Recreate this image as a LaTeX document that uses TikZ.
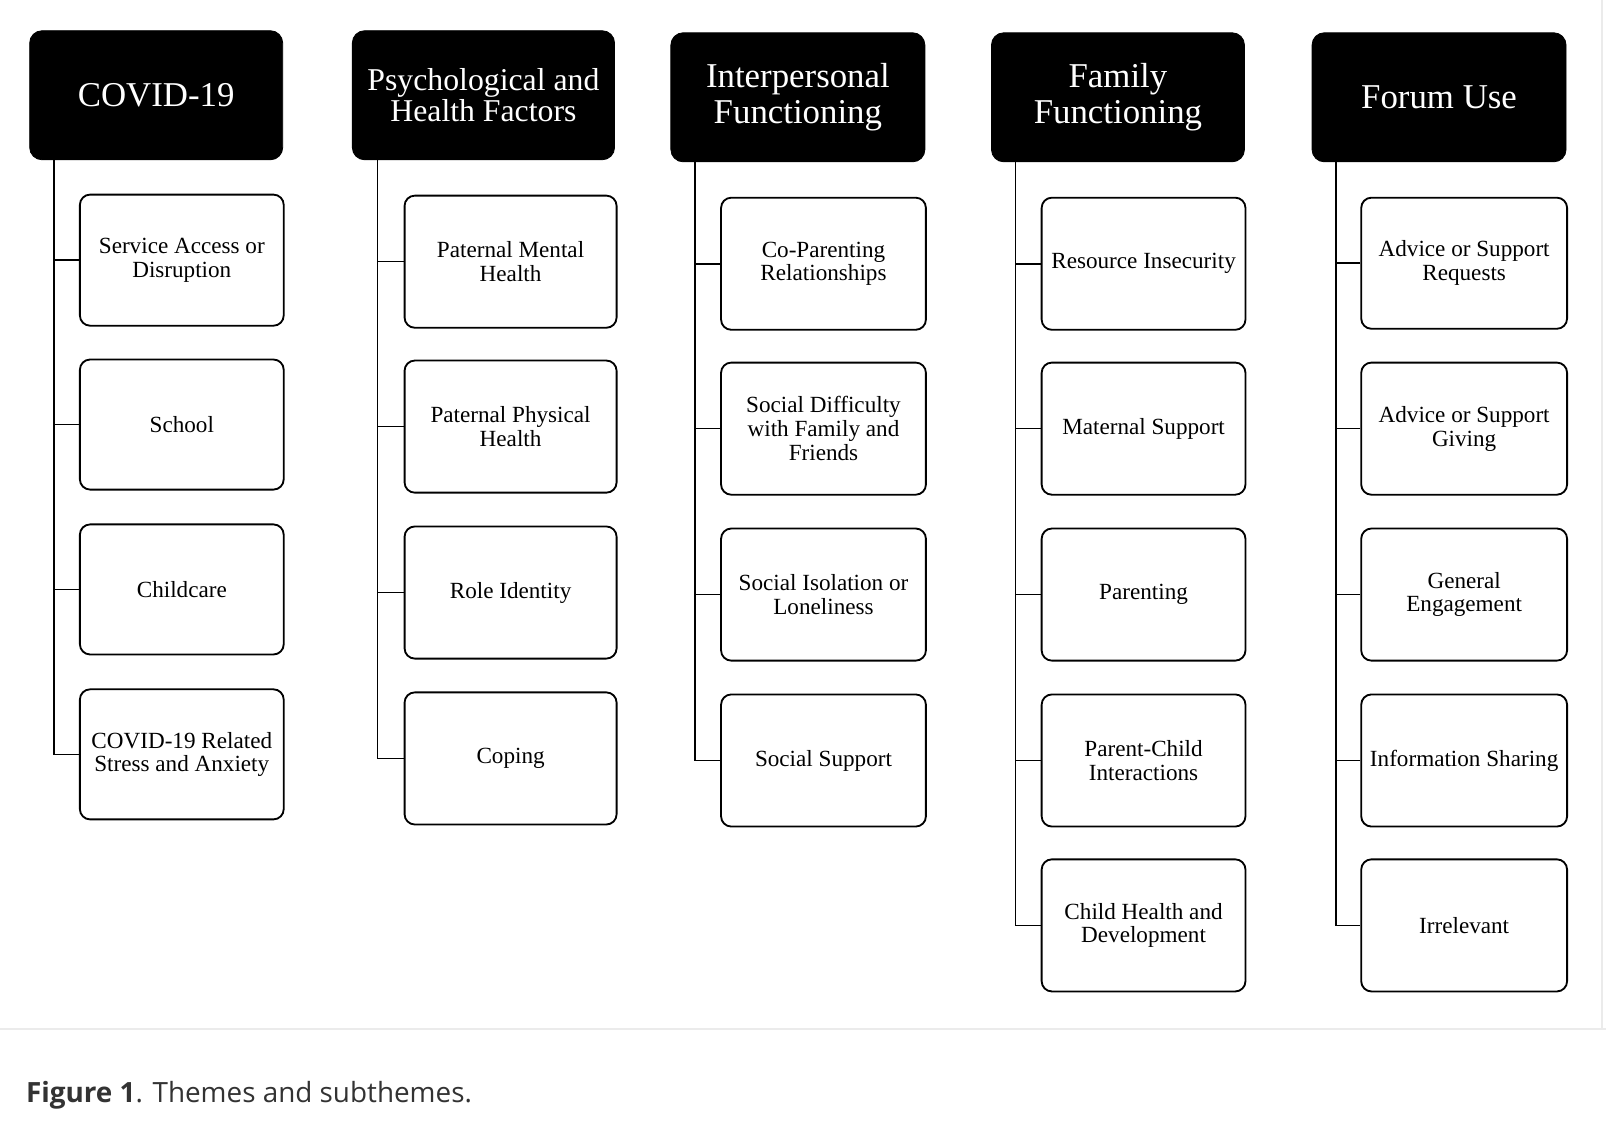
\documentclass[tikz,border=0pt]{standalone}
\usepackage{fontspec}
\setmainfont{Liberation Serif}
\newfontfamily\capfont{Open Sans}
\usetikzlibrary{calc}
\definecolor{capgray}{HTML}{333333}
\definecolor{sepgray}{HTML}{EBEBEB}
\newcommand\mybox[7]{%
  \node[#1, minimum width={(#5-#3)*0.5pt}, minimum height={(#6-#4)*0.5pt}] (#2) at ({(#3+#5)/2},{(#4+#6)/2}) {#7};}
\begin{document}
\begin{tikzpicture}[x=0.5pt,y=-0.5pt,
  headbox/.style={draw=black, fill=black, rounded corners=6pt, text=white, align=center, inner sep=2pt,
    font=\fontsize{17}{17.5}\selectfont},
  subbox/.style={draw=black, line width=0.9pt, fill=white, rounded corners=5pt, align=center, inner sep=2pt,
    font=\fontsize{11.3}{11.6}\selectfont},
  trunk/.style={draw=black, line width=0.75pt}]
\useasboundingbox (0,0) rectangle (1568,1107);
\fill[white] (0,0) rectangle (1568,1107);
% frame lines
\coordinate (sepL) at (0,1005);
\coordinate (sepR) at (1568,1005);
\coordinate (edgeT) at (1564,0);
\draw[sepgray, line width=1pt] (sepL) -- (sepR);
\draw[sepgray, line width=1pt] (edgeT) -- (edgeT |- sepL);
% headers
\mybox{headbox}{h1}{29}{30}{276}{156}{COVID-19}
\mybox{headbox, font=\fontsize{15.5}{15.5}\selectfont}{h2}{344}{30}{600}{156}{Psychological and\\Health Factors}
\mybox{headbox}{h3}{655}{32}{903}{158}{Interpersonal\\Functioning}
\mybox{headbox}{h4}{968}{32}{1215}{158}{Family\\Functioning}
\mybox{headbox}{h5}{1281}{32}{1529}{158}{Forum Use}
% column 1
\mybox{subbox}{s11}{78}{190}{277}{318}{Service Access or\\Disruption}
\mybox{subbox}{s12}{78}{351}{277}{478}{School}
\mybox{subbox}{s13}{78}{512}{277}{639}{Childcare}
\mybox{subbox}{s14}{78}{673}{277}{800}{COVID-19 Related\\Stress and Anxiety}
% column 2
\mybox{subbox}{s21}{395}{191}{602}{320}{Paternal Mental\\Health}
\mybox{subbox}{s22}{395}{352}{602}{481}{Paternal Physical\\Health}
\mybox{subbox}{s23}{395}{514}{602}{643}{Role Identity}
\mybox{subbox}{s24}{395}{676}{602}{805}{Coping}
% column 3
\mybox{subbox}{s31}{704}{193}{904}{322}{Co-Parenting\\Relationships}
\mybox{subbox}{s32}{704}{354}{904}{483}{Social Difficulty\\with Family and\\Friends}
\mybox{subbox}{s33}{704}{516}{904}{645}{Social Isolation or\\Loneliness}
\mybox{subbox}{s34}{704}{678}{904}{807}{Social Support}
% column 4
\mybox{subbox}{s41}{1017}{193}{1216}{322}{Resource Insecurity}
\mybox{subbox}{s42}{1017}{354}{1216}{483}{Maternal Support}
\mybox{subbox}{s43}{1017}{516}{1216}{645}{Parenting}
\mybox{subbox}{s44}{1017}{678}{1216}{807}{Parent-Child\\Interactions}
\mybox{subbox}{s45}{1017}{839}{1216}{968}{Child Health and\\Development}
% column 5
\mybox{subbox}{s51}{1329}{193}{1530}{321}{Advice or Support\\Requests}
\mybox{subbox}{s52}{1329}{354}{1530}{483}{Advice or Support\\Giving}
\mybox{subbox}{s53}{1329}{516}{1530}{645}{General\\Engagement}
\mybox{subbox}{s54}{1329}{678}{1530}{807}{Information Sharing}
\mybox{subbox}{s55}{1329}{839}{1530}{968}{Irrelevant}
% trunks
\coordinate (t1) at ([xshift=12pt]h1.south west);
\coordinate (t2) at ([xshift=12.5pt]h2.south west);
\coordinate (t3) at ([xshift=12pt]h3.south west);
\coordinate (t4) at ([xshift=12pt]h4.south west);
\coordinate (t5) at ([xshift=12pt]h5.south west);
\draw[trunk] (t1) |- (s14.west);
\draw[trunk] (t2) |- (s24.west);
\draw[trunk] (t3) |- (s34.west);
\draw[trunk] (t4) |- (s45.west);
\draw[trunk] (t5) |- (s55.west);
\foreach \s in {s11,s12,s13} \draw[trunk] (\s.west) -- (\s.west -| t1);
\foreach \s in {s21,s22,s23} \draw[trunk] (\s.west) -- (\s.west -| t2);
\foreach \s in {s31,s32,s33} \draw[trunk] (\s.west) -- (\s.west -| t3);
\foreach \s in {s41,s42,s43,s44} \draw[trunk] (\s.west) -- (\s.west -| t4);
\foreach \s in {s51,s52,s53,s54} \draw[trunk] (\s.west) -- (\s.west -| t5);
% caption
\node[anchor=base west, inner sep=0pt, text=capgray, font=\capfont\fontsize{13.6}{16}\selectfont] (cap) at (25,1076) {{\bfseries Figure 1}. Themes and subthemes.};
\end{tikzpicture}
\end{document}
